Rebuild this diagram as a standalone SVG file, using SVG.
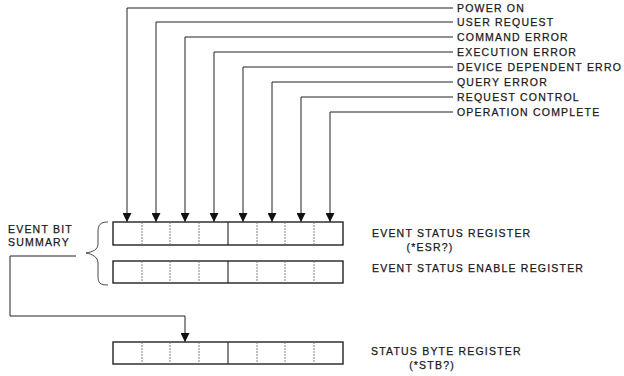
<svg xmlns="http://www.w3.org/2000/svg" width="624" height="376" viewBox="0 0 624 376">
<defs>
<marker id="ah" viewBox="0 0 10 10" refX="10" refY="5" markerWidth="9" markerHeight="9" markerUnits="userSpaceOnUse" orient="auto">
<path d="M0,0 L10,5 L0,10 z" fill="#111"/>
</marker>
<style>
text{font-family:"Liberation Sans",Arial,sans-serif;font-size:10.5px;fill:#1a1a1a;stroke:#1a1a1a;stroke-width:0.25;letter-spacing:1.2px}
.ln{fill:none;stroke:#222;stroke-width:1}
.box{fill:#fff;stroke:#222;stroke-width:1.4}
.div{stroke:#666;stroke-width:0.8;stroke-dasharray:2 1}
.mid{stroke:#222;stroke-width:1.1}
.brace{fill:none;stroke:#333;stroke-width:0.9}
</style>
</defs>
<rect width="624" height="376" fill="#fff"/>
<g id="connectors">
<path class="ln" d="M453,8 H127 V222" marker-end="url(#ah)"/>
<path class="ln" d="M453,22 H156 V222" marker-end="url(#ah)"/>
<path class="ln" d="M453,37 H185 V222" marker-end="url(#ah)"/>
<path class="ln" d="M453,52 H214 V222" marker-end="url(#ah)"/>
<path class="ln" d="M453,67 H243 V222" marker-end="url(#ah)"/>
<path class="ln" d="M453,82 H272 V222" marker-end="url(#ah)"/>
<path class="ln" d="M453,97 H301 V222" marker-end="url(#ah)"/>
<path class="ln" d="M453,112 H330 V222" marker-end="url(#ah)"/>
<path class="ln" d="M76,256 H10 V316 H185 V342" marker-end="url(#ah)"/>
</g>
<g id="labels-bits">
<text x="457" y="12">POWER ON</text>
<text x="457" y="26">USER REQUEST</text>
<text x="457" y="41">COMMAND ERROR</text>
<text x="457" y="56">EXECUTION ERROR</text>
<text x="457" y="71">DEVICE DEPENDENT ERRO</text>
<text x="457" y="86">QUERY ERROR</text>
<text x="457" y="101">REQUEST CONTROL</text>
<text x="457" y="116">OPERATION COMPLETE</text>
</g>
<g id="esr">
<rect class="box" x="113" y="222" width="230" height="23"/>
<path class="div" d="M142,222V245M170,222V245M199,222V245M257,222V245M285,222V245M314,222V245"/>
<path class="mid" d="M228,222V245"/>
<text x="372" y="237">EVENT STATUS REGISTER</text>
<text x="430" y="251" text-anchor="middle">(*ESR?)</text>
</g>
<g id="eser">
<rect class="box" x="113" y="261" width="230" height="22"/>
<path class="div" d="M142,261V283M170,261V283M199,261V283M257,261V283M285,261V283M314,261V283"/>
<path class="mid" d="M228,261V283"/>
<text x="372" y="272">EVENT STATUS ENABLE REGISTER</text>
</g>
<g id="summary">
<path class="brace" d="M108,222 C100,222 98,225 98,232 L98,244 C98,250 92,252 86,253 C92,254 98,257 98,263 L98,276 C98,283 100,285 108,285"/>
<text x="8" y="233">EVENT BIT</text>
<text x="8" y="246">SUMMARY</text>
</g>
<g id="sbr">
<rect class="box" x="113" y="342" width="230" height="22"/>
<path class="div" d="M142,342V364M170,342V364M199,342V364M257,342V364M285,342V364M314,342V364"/>
<path class="mid" d="M228,342V364"/>
<text x="371" y="355">STATUS BYTE REGISTER</text>
<text x="432" y="369" text-anchor="middle">(*STB?)</text>
</g>
</svg>
